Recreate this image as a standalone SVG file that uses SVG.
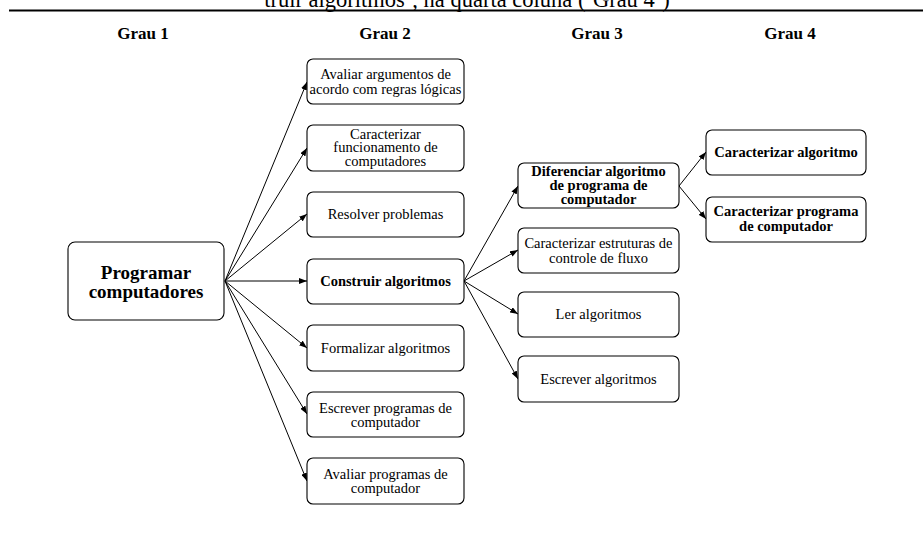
<svg xmlns="http://www.w3.org/2000/svg" width="923" height="533" viewBox="0 0 923 533">
  <defs>
    <marker id="arrow" viewBox="0 0 8 6" refX="8" refY="3" markerWidth="8" markerHeight="6" markerUnits="userSpaceOnUse" orient="auto">
      <path d="M0,0 L8,3 L0,6 Z" fill="#000"/>
    </marker>
  </defs>
  <style>
    text { font-family: "Liberation Serif", "Times New Roman", serif; fill: #000; }
    .box { fill: #fff; stroke: #000; stroke-width: 1.1; }
    .t { font-size: 14.5px; text-anchor: middle; }
    .tb { font-size: 14.5px; font-weight: bold; text-anchor: middle; }
    .head { font-size: 17px; font-weight: bold; text-anchor: middle; }
    .edge { stroke: #000; stroke-width: 1; fill: none; marker-end: url(#arrow); }
  </style>
  <rect width="923" height="533" fill="#fff"/>

  <!-- caption fragment and rule -->
  <text x="467" y="7" font-size="22.5" text-anchor="middle">truir algoritmos’, na quarta coluna (‘Grau 4’)</text>
  <line x1="9" y1="10.5" x2="923" y2="10.5" stroke="#000" stroke-width="2"/>

  <!-- column headers -->
  <text class="head" x="143" y="39">Grau 1</text>
  <text class="head" x="385" y="39">Grau 2</text>
  <text class="head" x="597" y="39">Grau 3</text>
  <text class="head" x="790" y="39">Grau 4</text>

  <!-- connectors -->
  <g id="connectors">
    <line class="edge" x1="225" y1="281" x2="307" y2="82"/>
    <line class="edge" x1="225" y1="281" x2="307" y2="148"/>
    <line class="edge" x1="225" y1="281" x2="307" y2="214"/>
    <line class="edge" x1="225" y1="281" x2="307" y2="281"/>
    <line class="edge" x1="225" y1="281" x2="307" y2="348"/>
    <line class="edge" x1="225" y1="281" x2="307" y2="414"/>
    <line class="edge" x1="225" y1="281" x2="307" y2="481"/>
    <line class="edge" x1="464" y1="281" x2="518" y2="186"/>
    <line class="edge" x1="464" y1="281" x2="518" y2="250"/>
    <line class="edge" x1="464" y1="281" x2="518" y2="314"/>
    <line class="edge" x1="464" y1="281" x2="518" y2="379"/>
    <line class="edge" x1="679" y1="186" x2="706" y2="152"/>
    <line class="edge" x1="679" y1="186" x2="706" y2="219"/>
  </g>

  <!-- Grau 1 -->
  <g id="programar-computadores">
    <rect class="box" x="68" y="242" width="156" height="78" rx="7" stroke-width="1.3"/>
    <text x="146" y="279" font-size="19" font-weight="bold" text-anchor="middle">Programar</text>
    <text x="146" y="298" font-size="19" font-weight="bold" text-anchor="middle">computadores</text>
  </g>

  <!-- Grau 2 -->
  <g id="avaliar-argumentos">
    <rect class="box" x="307" y="59" width="157" height="45" rx="6"/>
    <text class="t" x="385.5" y="79">Avaliar argumentos de</text>
    <text class="t" x="385.5" y="94">acordo com regras lógicas</text>
  </g>
  <g id="caracterizar-funcionamento">
    <rect class="box" x="307" y="125" width="157" height="46" rx="6"/>
    <text class="t" x="385.5" y="138.5">Caracterizar</text>
    <text class="t" x="385.5" y="152">funcionamento de</text>
    <text class="t" x="385.5" y="165.5">computadores</text>
  </g>
  <g id="resolver-problemas">
    <rect class="box" x="307" y="192" width="157" height="45" rx="6"/>
    <text class="t" x="385.5" y="219">Resolver problemas</text>
  </g>
  <g id="construir-algoritmos">
    <rect class="box" x="307" y="259" width="157" height="45" rx="6"/>
    <text class="tb" x="385.5" y="286">Construir algoritmos</text>
  </g>
  <g id="formalizar-algoritmos">
    <rect class="box" x="307" y="325" width="157" height="46" rx="6"/>
    <text class="t" x="385.5" y="352.5">Formalizar algoritmos</text>
  </g>
  <g id="escrever-programas">
    <rect class="box" x="307" y="392" width="157" height="45" rx="6"/>
    <text class="t" x="385.5" y="412.5">Escrever programas de</text>
    <text class="t" x="385.5" y="426.5">computador</text>
  </g>
  <g id="avaliar-programas">
    <rect class="box" x="307" y="458" width="157" height="46" rx="6"/>
    <text class="t" x="385.5" y="478.5">Avaliar programas de</text>
    <text class="t" x="385.5" y="492.5">computador</text>
  </g>

  <!-- Grau 3 -->
  <g id="diferenciar-algoritmo">
    <rect class="box" x="518" y="163" width="161" height="45" rx="6"/>
    <text class="tb" x="598.5" y="175.5">Diferenciar algoritmo</text>
    <text class="tb" x="598.5" y="189.5">de programa de</text>
    <text class="tb" x="598.5" y="203.5">computador</text>
  </g>
  <g id="caracterizar-estruturas">
    <rect class="box" x="518" y="228" width="161" height="45" rx="6"/>
    <text class="t" x="598.5" y="248">Caracterizar estruturas de</text>
    <text class="t" x="598.5" y="262.5">controle de fluxo</text>
  </g>
  <g id="ler-algoritmos">
    <rect class="box" x="518" y="292" width="161" height="45" rx="6"/>
    <text class="t" x="598.5" y="319">Ler algoritmos</text>
  </g>
  <g id="escrever-algoritmos">
    <rect class="box" x="518" y="356" width="161" height="46" rx="6"/>
    <text class="t" x="598.5" y="383.5">Escrever algoritmos</text>
  </g>

  <!-- Grau 4 -->
  <g id="caracterizar-algoritmo">
    <rect class="box" x="706" y="130" width="160" height="45" rx="6"/>
    <text class="tb" x="786" y="157">Caracterizar algoritmo</text>
  </g>
  <g id="caracterizar-programa">
    <rect class="box" x="706" y="197" width="160" height="45" rx="6"/>
    <text class="tb" x="786" y="216">Caracterizar programa</text>
    <text class="tb" x="786" y="230.5">de computador</text>
  </g>
</svg>
